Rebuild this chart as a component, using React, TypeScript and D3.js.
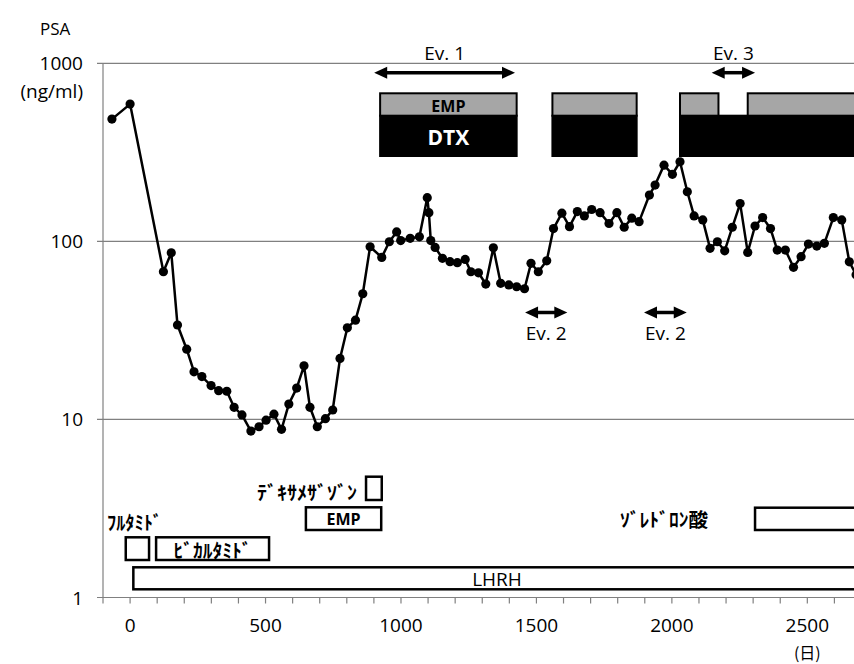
import React, { useRef, useEffect } from 'react';
import * as d3 from 'd3';

// PSA course (days from start, ng/ml)
const psaDays = [
  -67, 0, 123, 152, 175, 209, 236, 265, 299, 327, 357, 384, 413, 446, 476, 502, 531, 559, 586, 615,
  642, 664, 691, 721, 748, 775, 802, 832, 859, 886, 929, 957, 984, 999, 1034, 1068, 1097, 1103, 1110, 1126,
  1153, 1181, 1208, 1237, 1258, 1286, 1313, 1341, 1368, 1398, 1427, 1456, 1480, 1507, 1538, 1563, 1594, 1622, 1651, 1677,
  1704, 1735, 1768, 1797, 1824, 1852, 1879, 1917, 1938, 1971, 2002, 2030, 2057, 2082, 2114, 2141, 2168, 2195, 2223, 2252,
  2280, 2307, 2335, 2364, 2389, 2419, 2449, 2477, 2504, 2535, 2563, 2596, 2627, 2655, 2680,
];
const psaValues = [
  486, 590, 67.5, 86.3, 33.9, 24.8, 18.5, 17.4, 15.5, 14.5, 14.4, 11.7, 10.6, 8.6, 9.1, 9.9, 10.7, 8.8, 12.2, 15.0,
  20.0, 11.7, 9.1, 10.1, 11.3, 22.0, 32.7, 36.1, 50.8, 93.3, 81.3, 99.5, 113, 101, 104, 106, 176, 145, 101, 92.5,
  80.3, 76.9, 75.9, 79.2, 67.5, 66.6, 57.6, 92, 58.1, 56.9, 55.6, 54.2, 75.3, 67.5, 77.8, 118, 144, 121, 147, 139,
  151, 145, 126, 145, 120, 135, 129, 182, 207, 268, 238, 280, 190, 139, 132, 91.4, 99.5, 88.5, 120, 163,
  86.7, 122, 136, 118, 89.4, 89.4, 71.5, 82, 96.6, 94.1, 97.5, 136, 132, 76.8, 65,
];

const xTicks = d3.range(-100, 2801, 100);
const xLabels = [0, 500, 1000, 1500, 2000, 2500];
const yTicks = [1, 10, 100, 1000];

// chemo periods (start day, end day)
const dtxStart = [923, 1559, 2030];
const dtxEnd = [1427, 1870, 2800];
const empStart = [923, 1559, 2030, 2280];
const empEnd = [1427, 1870, 2172, 2800];

// event arrows
const evLabels = ['Ev. 1', 'Ev. 2', 'Ev. 2', 'Ev. 3'];
const evStart = [901, 1458, 1897, 2147];
const evEnd = [1421, 1614, 2055, 2307];

// other drugs
const drugNames = ['LHRH', 'ﾌﾙﾀﾐﾄﾞ', 'ﾋﾞｶﾙﾀﾐﾄﾞ', 'EMP', 'ﾃﾞｷｻﾒｻﾞｿﾞﾝ', 'ｿﾞﾚﾄﾞﾛﾝ酸'];
const drugStart = [12, -16, 96, 649, 871, 2307];
const drugEnd = [2800, 70, 513, 927, 929, 2800];

const latin = '"Open Sans", "Noto Sans", sans-serif';
const jp = '"Noto Sans CJK JP", sans-serif';

const PsaChart = () => {
  const svgRef = useRef(null);

  useEffect(() => {
    const svg = d3.select(svgRef.current);
    svg.selectAll('*').remove();

    const x = d3.scaleLinear().domain([-100, 2700]).range([103, 861.5]);
    const y = d3.scaleLog().domain([1, 1000]).range([597.5, 63.3]);
    const axisColor = '#808080';

    svg.append('rect').attr('width', 854).attr('height', 664).attr('fill', '#fff');

    // gridlines + y ticks
    yTicks.forEach(t => {
      svg.append('line')
        .attr('x1', 97).attr('x2', 854)
        .attr('y1', y(t)).attr('y2', y(t))
        .attr('stroke', axisColor).attr('stroke-width', 1.2);
      svg.append('text')
        .attr('x', 83).attr('y', y(t))
        .attr('text-anchor', 'end').attr('dominant-baseline', 'central')
        .attr('font-family', latin).attr('font-size', 19)
        .text(t);
    });
    svg.append('text').attr('x', 83).attr('y', 91)
      .attr('text-anchor', 'end').attr('dominant-baseline', 'central')
      .attr('font-family', latin).attr('font-size', 19).text('(ng/ml)');
    svg.append('text').attr('x', 40).attr('y', 28)
      .attr('dominant-baseline', 'central')
      .attr('font-family', latin).attr('font-size', 17).text('PSA');

    // axes
    svg.append('line').attr('x1', x(-100)).attr('x2', x(-100))
      .attr('y1', y(1000)).attr('y2', y(1))
      .attr('stroke', axisColor).attr('stroke-width', 1.2);
    xTicks.forEach(t => {
      svg.append('line').attr('x1', x(t)).attr('x2', x(t))
        .attr('y1', y(1)).attr('y2', y(1) + 6)
        .attr('stroke', axisColor).attr('stroke-width', 1.2);
    });
    xLabels.forEach(t => {
      svg.append('text').attr('x', x(t)).attr('y', 625)
        .attr('text-anchor', 'middle').attr('dominant-baseline', 'central')
        .attr('font-family', latin).attr('font-size', 19).text(t);
    });
    svg.append('text').attr('x', x(2500)).attr('y', 652)
      .attr('text-anchor', 'middle').attr('dominant-baseline', 'central')
      .attr('font-family', jp).attr('font-size', 16).text('(日)');

    // DTX / EMP blocks
    const top = 93.3, mid = 115.7, bottom = 156;
    dtxStart.forEach((s, i) => {
      svg.append('rect').attr('x', x(s)).attr('y', mid)
        .attr('width', x(dtxEnd[i]) - x(s)).attr('height', bottom - mid)
        .attr('fill', '#000').attr('stroke', '#000').attr('stroke-width', 2);
    });
    empStart.forEach((s, i) => {
      svg.append('rect').attr('x', x(s)).attr('y', top)
        .attr('width', x(empEnd[i]) - x(s)).attr('height', mid - top)
        .attr('fill', '#a6a6a6').attr('stroke', '#000').attr('stroke-width', 2);
    });
    const firstMid = (x(dtxStart[0]) + x(dtxEnd[0])) / 2;
    svg.append('text').attr('x', firstMid).attr('y', (top + mid) / 2 + 1)
      .attr('text-anchor', 'middle').attr('dominant-baseline', 'central')
      .attr('font-family', latin).attr('font-weight', 'bold').attr('font-size', 16).text('EMP');
    svg.append('text').attr('x', firstMid).attr('y', (mid + bottom) / 2 + 1)
      .attr('text-anchor', 'middle').attr('dominant-baseline', 'central')
      .attr('font-family', latin).attr('font-weight', 'bold').attr('font-size', 21)
      .attr('fill', '#fff').text('DTX');

    // event arrows
    const arrow = (x1, x2, yy) => {
      const h = 13, w = 6;
      svg.append('line').attr('x1', x1 + h - 2).attr('x2', x2 - h + 2)
        .attr('y1', yy).attr('y2', yy).attr('stroke', '#000').attr('stroke-width', 3.5);
      svg.append('path').attr('d', `M${x1},${yy}L${x1 + h},${yy - w}L${x1 + h},${yy + w}Z`).attr('fill', '#000');
      svg.append('path').attr('d', `M${x2},${yy}L${x2 - h},${yy - w}L${x2 - h},${yy + w}Z`).attr('fill', '#000');
    };
    evLabels.forEach((lab, i) => {
      const below = lab === 'Ev. 2';
      const ay = below ? 312.5 : 72.7;
      const ty = below ? 333 : 53;
      arrow(x(evStart[i]), x(evEnd[i]), ay);
      svg.append('text').attr('x', (x(evStart[i]) + x(evEnd[i])) / 2).attr('y', ty)
        .attr('text-anchor', 'middle').attr('dominant-baseline', 'central')
        .attr('font-family', latin).attr('font-size', 19).text(lab);
    });

    // PSA line and points
    const pts = psaDays.map((d, i) => [x(d), y(psaValues[i])]);
    svg.append('path').attr('d', d3.line()(pts))
      .attr('fill', 'none').attr('stroke', '#000').attr('stroke-width', 2.5)
      .attr('stroke-linejoin', 'round');
    svg.selectAll('circle.pt').data(pts).enter().append('circle')
      .attr('class', 'pt')
      .attr('cx', d => d[0]).attr('cy', d => d[1]).attr('r', 4.6).attr('fill', '#000');

    // drug bars below
    const rows = [[567.3, 589.3], [537.3, 560], [537.3, 560], [507.3, 530], [476.7, 500], [507.7, 530]];
    drugNames.forEach((name, i) => {
      const [y0, y1] = rows[i];
      const x0 = x(drugStart[i]);
      const x1 = x(drugEnd[i]);
      svg.append('rect').attr('x', x0).attr('y', y0)
        .attr('width', x1 - x0).attr('height', y1 - y0)
        .attr('fill', 'none').attr('stroke', '#000').attr('stroke-width', 2.5);
    });
    const label = (txt, lx, ly, anchor, len, font, weight, size) => {
      const t = svg.append('text').attr('x', lx).attr('y', ly)
        .attr('text-anchor', anchor).attr('dominant-baseline', 'central')
        .attr('font-family', font).attr('font-weight', weight).attr('font-size', size)
        .text(txt);
      if (len) t.attr('textLength', len).attr('lengthAdjust', 'spacingAndGlyphs');
    };
    label(drugNames[0], 497, 579, 'middle', null, latin, 'normal', 19);
    label(drugNames[1], 107, 521.5, 'start', 55, jp, 'bold', 19);
    label(drugNames[2], (x(drugStart[2]) + x(drugEnd[2])) / 2, 549, 'middle', 78, jp, 'bold', 19);
    label(drugNames[3], (x(drugStart[3]) + x(drugEnd[3])) / 2, 519, 'middle', null, latin, 'bold', 16);
    label(drugNames[4], 357, 491, 'end', 100, jp, 'bold', 19);
    label(drugNames[5], 620, 518, 'start', 88, jp, 'bold', 19);
  }, []);

  return (
    <svg ref={svgRef} width={854} height={664}
      style={{ position: 'absolute', left: 0, top: 0, background: '#fff' }} />
  );
};

export default function App() {
  return <PsaChart />;
}
